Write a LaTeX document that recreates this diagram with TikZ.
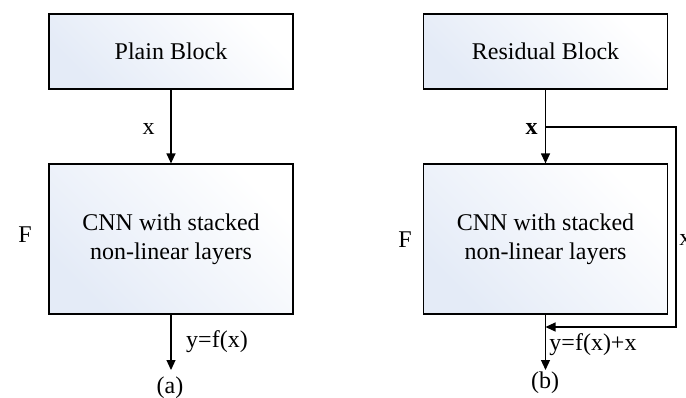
\documentclass[tikz,border=0pt]{standalone}
\usepackage{fontspec}
\setmainfont{Liberation Serif}
\usetikzlibrary{positioning, arrows.meta}
\definecolor{blockblue}{HTML}{E4EBF7}
\tikzset{
  block/.style={draw, line width=0.6pt, left color=blockblue, right color=white,
    shading angle=135, minimum width=122pt, minimum height=37.5pt,
    align=center, inner sep=0pt},
  tallblock/.style={block, minimum height=75pt},
  flow/.style={line width=0.6pt, -{Triangle[width=4.5pt,length=5pt]}},
  lbl/.style={inner sep=0pt}
}

\begin{document}
\begin{tikzpicture}[x=0.5pt, y=-0.5pt, font=\fontsize{12}{14.5}\selectfont]
  \useasboundingbox (0,0) rectangle (686,397);

  % (a) plain block
  \node[block] (plain) at (171,51.5) {Plain Block};
  \node[tallblock] (cnnA) at (171,239) {CNN with stacked\\non-linear layers};
  \coordinate (outA) at (171,370);
  \draw[flow] (plain) -- (cnnA);
  \draw[flow] (cnnA) -- (outA);
  \node[lbl] (xA) at (148.5,129) {x};
  \node[lbl] (yA) at (217,342) {y=f(x)};
  \node[lbl] (FA) at (25,235) {F};
  \node[lbl] (capA) at (170,388) {(a)};

  % (b) residual block
  \node[block] (resid) at (545.5,51.5) {Residual Block};
  \node[tallblock] (cnnB) at (545.5,239) {CNN with stacked\\non-linear layers};
  \coordinate (split) at (545.5,127);
  \coordinate (join) at (545.5,327);
  \coordinate (outB) at (545.5,370);
  \draw[flow] (resid) -- (cnnB);
  \draw[flow] (split) -- ++(130.5,0) |- (join);
  \draw[flow] (cnnB) -- (outB);
  \node[lbl] (xB) at (531.5,129) {\bfseries x};
  \node[lbl, anchor=west] (xskip) at (679,240) {x};
  \node[lbl] (yB) at (593,345) {y=f(x)+x};
  \node[lbl] (FB) at (405,240) {F};
  \node[lbl] (capB) at (545,383) {(b)};
\end{tikzpicture}
\end{document}
